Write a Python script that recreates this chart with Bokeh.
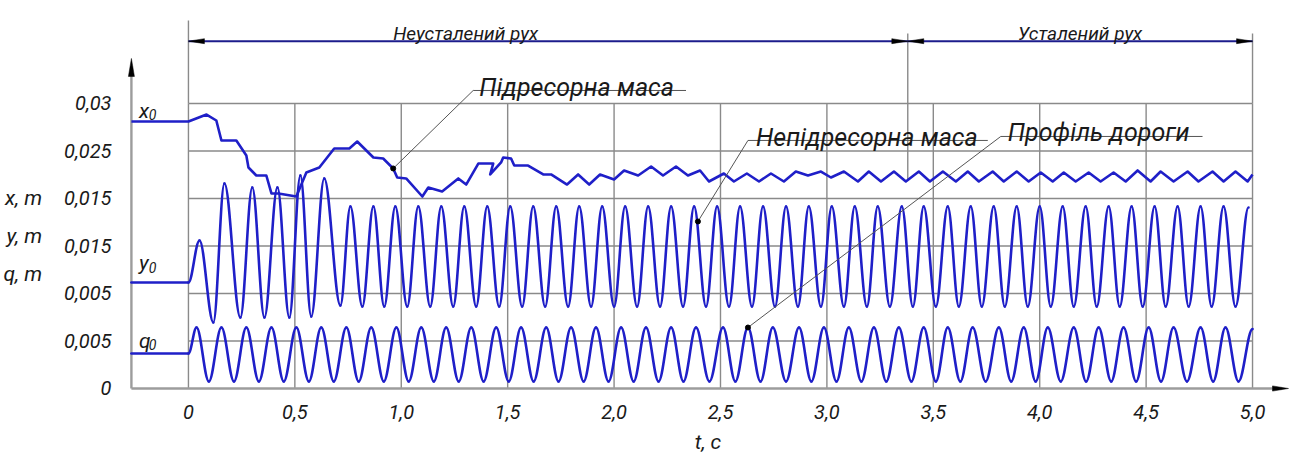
from bokeh.plotting import figure
from bokeh.models import Range1d, FixedTicker, ColumnDataSource
from bokeh.core.properties import value
from bokeh.embed import file_html
from bokeh.resources import INLINE

# ---------------- data ----------------
t_ticks = [0, 0.5, 1, 1.5, 2, 2.5, 3, 3.5, 4, 4.5, 5]
t_labels = ["0", "0,5", "1,0", "1,5", "2,0", "2,5", "3,0", "3,5", "4,0", "4,5", "5,0"]
v_ticks = [0, 0.005, 0.01, 0.015, 0.02, 0.025, 0.03]
v_labels = ["0", "0,005", "0,005", "0,015", "0,015", "0,025", "0,03"]

phase_names = ["Неусталений рух", "Усталений рух"]
phase_bounds = [0, 3.38, 5]

curve_names = ["Підресорна маса", "Непідресорна маса", "Профіль дороги"]
callout_t = [0.962, 2.394, 2.629]
callout_v = [0.02316, 0.01758, 0.00642]

# sprung mass x(t)
x_t = [-0.268, 0.000, 0.085, 0.131, 0.155, 0.225, 0.272, 0.282, 0.319, 0.366,
       0.390, 0.423, 0.507, 0.554, 0.615, 0.685, 0.756, 0.793, 0.869, 0.915,
       0.962, 0.981, 1.023, 1.099, 1.127, 1.192, 1.268, 1.305, 1.362, 1.432,
       1.418, 1.469, 1.479, 1.516, 1.531, 1.596, 1.667, 1.704, 1.779, 1.831,
       1.883, 1.934, 2.000, 2.047, 2.113, 2.174, 2.230, 2.291, 2.347, 2.404,
       2.446, 2.516, 2.563, 2.624, 2.681, 2.737, 2.798, 2.854, 2.911, 2.972,
       3.019, 3.080, 3.146, 3.197, 3.254, 3.315, 3.371, 3.432, 3.484, 3.545,
       3.606, 3.662, 3.714, 3.779, 3.831, 3.892, 3.948, 4.005, 4.061, 4.113,
       4.169, 4.230, 4.286, 4.347, 4.404, 4.460, 4.521, 4.568, 4.629, 4.695,
       4.746, 4.812, 4.864, 4.920, 4.977, 5.000]
x_v = [0.02811, 0.02811, 0.02884, 0.02821, 0.02611, 0.02611, 0.02453, 0.02326, 0.02242, 0.02242,
       0.02053, 0.02053, 0.02021, 0.02274, 0.02326, 0.02526, 0.02526, 0.02600, 0.02432, 0.02421,
       0.02316, 0.02221, 0.02211, 0.02021, 0.02116, 0.02074, 0.02211, 0.02147, 0.02368, 0.02368,
       0.02253, 0.02379, 0.02432, 0.02421, 0.02347, 0.02347, 0.02253, 0.02253, 0.02147, 0.02253,
       0.02147, 0.02253, 0.02200, 0.02295, 0.02242, 0.02337, 0.02242, 0.02337, 0.02242, 0.02295,
       0.02179, 0.02263, 0.02179, 0.02263, 0.02179, 0.02263, 0.02179, 0.02284, 0.02242, 0.02284,
       0.02221, 0.02284, 0.02179, 0.02284, 0.02179, 0.02284, 0.02179, 0.02284, 0.02179, 0.02284,
       0.02179, 0.02284, 0.02179, 0.02284, 0.02179, 0.02284, 0.02179, 0.02274, 0.02179, 0.02274,
       0.02179, 0.02274, 0.02179, 0.02274, 0.02179, 0.02295, 0.02179, 0.02284, 0.02179, 0.02284,
       0.02179, 0.02284, 0.02179, 0.02284, 0.02179, 0.02253]

# unsprung mass y(t): successive extrema
y_t = [-0.268, 0.000, 0.052, 0.117, 0.169, 0.244, 0.300, 0.357, 0.418, 0.474,
       0.526, 0.577, 0.638, 0.714,
       0.761, 0.817, 0.869, 0.920, 0.972, 1.028, 1.080, 1.136, 1.188, 1.244,
       1.296, 1.352, 1.404, 1.460, 1.512, 1.568, 1.620, 1.676, 1.728, 1.784,
       1.836, 1.892, 1.944, 2.000, 2.052, 2.108, 2.160, 2.216, 2.268, 2.324,
       2.376, 2.432, 2.484, 2.540, 2.592, 2.648, 2.700, 2.756, 2.808, 2.864,
       2.915, 2.972, 3.023, 3.080, 3.131, 3.188, 3.239, 3.296, 3.352, 3.404,
       3.455, 3.512, 3.568, 3.620, 3.676, 3.728, 3.784, 3.836, 3.892, 3.944,
       4.000, 4.052, 4.108, 4.160, 4.216, 4.268, 4.324, 4.376, 4.432, 4.484,
       4.540, 4.592, 4.648, 4.700, 4.756, 4.808, 4.864, 4.920, 4.981]
y_v = [0.01116, 0.01116, 0.01558, 0.00695, 0.02158, 0.00747, 0.02116, 0.00747, 0.02116, 0.00747,
       0.02242, 0.00758, 0.02211, 0.00874,
       0.01916, 0.00863, 0.01916, 0.00863, 0.01916, 0.00863, 0.01916, 0.00863, 0.01916, 0.00863,
       0.01916, 0.00863, 0.01916, 0.00863, 0.01916, 0.00863, 0.01916, 0.00863, 0.01916, 0.00863,
       0.01916, 0.00863, 0.01916, 0.00863, 0.01916, 0.00863, 0.01916, 0.00863, 0.01916, 0.00863,
       0.01916, 0.00863, 0.01916, 0.00863, 0.01916, 0.00863, 0.01916, 0.00863, 0.01916, 0.00863,
       0.01916, 0.00863, 0.01916, 0.00863, 0.01916, 0.00863, 0.01916, 0.00863, 0.01916, 0.00863,
       0.01916, 0.00863, 0.01916, 0.00863, 0.01916, 0.00863, 0.01916, 0.00863, 0.01916, 0.00863,
       0.01916, 0.00863, 0.01916, 0.00863, 0.01916, 0.00863, 0.01916, 0.00863, 0.01916, 0.00863,
       0.01916, 0.00863, 0.01916, 0.00863, 0.01916, 0.00863, 0.01916, 0.00863, 0.01905]

# road profile q(t): successive extrema
q_t = [-0.268, 0.000,
       0.038, 0.096, 0.155, 0.214, 0.272, 0.331, 0.390, 0.448, 0.507, 0.566,
       0.624, 0.683, 0.742, 0.800, 0.859, 0.918, 0.977, 1.035, 1.094, 1.153,
       1.211, 1.270, 1.329, 1.387, 1.446, 1.505, 1.563, 1.622, 1.681, 1.739,
       1.798, 1.857, 1.915, 1.974, 2.033, 2.092, 2.150, 2.209, 2.268, 2.326,
       2.385, 2.448, 2.512, 2.570, 2.629, 2.688, 2.746, 2.808, 2.869, 2.927,
       2.986, 3.045, 3.103, 3.162, 3.221, 3.279, 3.338, 3.397, 3.455, 3.512,
       3.568, 3.627, 3.685, 3.746, 3.808, 3.866, 3.925, 3.981, 4.038, 4.099,
       4.160, 4.218, 4.277, 4.336, 4.394, 4.453, 4.512, 4.570, 4.629, 4.692,
       4.756, 4.815, 4.873, 4.934, 5.000]
q_v = [0.00368, 0.00368,
       0.00642, 0.00074, 0.00642, 0.00074, 0.00642, 0.00074, 0.00642, 0.00074, 0.00642, 0.00074,
       0.00642, 0.00074, 0.00642, 0.00074, 0.00642, 0.00074, 0.00642, 0.00074, 0.00642, 0.00074,
       0.00642, 0.00074, 0.00642, 0.00074, 0.00642, 0.00074, 0.00642, 0.00074, 0.00642, 0.00074,
       0.00642, 0.00074, 0.00642, 0.00074, 0.00642, 0.00074, 0.00642, 0.00074, 0.00642, 0.00074,
       0.00642, 0.00074, 0.00642, 0.00074, 0.00642, 0.00074, 0.00642, 0.00074, 0.00642, 0.00074,
       0.00642, 0.00074, 0.00642, 0.00074, 0.00642, 0.00074, 0.00642, 0.00074, 0.00642, 0.00074,
       0.00642, 0.00074, 0.00642, 0.00074, 0.00642, 0.00074, 0.00642, 0.00074, 0.00642, 0.00074,
       0.00642, 0.00074, 0.00642, 0.00074, 0.00642, 0.00074, 0.00642, 0.00074, 0.00642, 0.00074,
       0.00642, 0.00074, 0.00642, 0.00074, 0.00625]

# ---------------- layout / style ----------------
FONT = "Roboto"
CURVE = "#1f1fc8"
DIM = "#1c1c8c"
GRID = "#8a8a8a"
AXIS = "#9c9c9c"
INK = "#1a1a1a"
LEAD = "#555555"

W, H = 1290, 458
ML, MB = 124, 64
T0, T1 = -0.295775, 5.178404
V0, V1 = -0.000632, 0.040842
PX_T = (W - ML) / (T1 - T0)
PX_V = (H - MB) / (V1 - V0)

p = figure(width=W, height=H, x_range=Range1d(T0, T1), y_range=Range1d(V0, V1),
           output_backend="svg", toolbar_location=None,
           min_border_left=ML, min_border_right=0, min_border_top=0, min_border_bottom=MB)
p.outline_line_color = None
p.grid.visible = False
p.background_fill_color = "white"
p.border_fill_color = "white"

for ax, ticks, labels, standoff in ((p.xaxis[0], t_ticks, t_labels, 4),
                                    (p.yaxis[0], v_ticks, v_labels, 8)):
    ax.ticker = FixedTicker(ticks=ticks)
    ax.major_label_overrides = {k: s for k, s in zip(ticks, labels)}
    ax.axis_line_color = None
    ax.major_tick_line_color = None
    ax.minor_tick_line_color = None
    ax.major_label_text_font = FONT
    ax.major_label_text_font_size = "20px"
    ax.major_label_text_font_style = "italic"
    ax.major_label_text_color = INK
    ax.major_label_standoff = standoff
    ax.axis_label_text_font = FONT
    ax.axis_label_text_font_size = "21px"
    ax.axis_label_text_font_style = "italic"
    ax.axis_label_text_color = INK

p.xaxis[0].axis_label = "t, c"
p.xaxis[0].axis_label_standoff = 8
p.yaxis[0].axis_label = "\n\nx, m\ny, m\nq, m"
p.yaxis[0].axis_label_standoff = 19
p.yaxis[0].axis_label_text_line_height = 1.6
try:
    p.yaxis[0].axis_label_orientation = "horizontal"
except Exception:
    pass

t_axis = x_t[0]
t0, t_mid, t_end = phase_bounds
v_top = v_ticks[-1]
v_dim = 0.03656
v_ext = 0.03737

# grid
p.segment(x0=[t0] * 6, y0=v_ticks[1:], x1=[t_end] * 6, y1=v_ticks[1:], line_color=GRID, line_width=1.4)
p.segment(x0=t_ticks, y0=[0] * len(t_ticks), x1=t_ticks, y1=[v_top] * len(t_ticks), line_color=GRID, line_width=1.4)
# extension lines of the dimensions
p.segment(x0=[t0, t_mid, t_end], y0=[v_top, 0.0219, v_top], x1=[t0, t_mid, t_end], y1=[0.03874, v_ext, v_ext],
          line_color=GRID, line_width=1.4)


def head(tx, ty, dx, dy, length, half):
    bx = tx - dx * length / PX_T
    by = ty - dy * length / PX_V
    nx, ny = -dy, dx
    return ([tx, bx + nx * half / PX_T, bx - nx * half / PX_T],
            [ty, by + ny * half / PX_V, by - ny * half / PX_V])


# axes with arrows
ax_tip_v = 0.03474
ax_tip_t = 5.169
p.segment(x0=[t_axis, t_axis], y0=[0, 0], x1=[t_axis, ax_tip_t - 0.03], y1=[ax_tip_v - 0.0008, 0],
          line_color=AXIS, line_width=2.4)
hx1, hy1 = head(t_axis, ax_tip_v, 0, 1, 18, 3)
hx2, hy2 = head(ax_tip_t, 0, 1, 0, 16, 2.6)
p.patches(xs=[hx1, hx2], ys=[hy1, hy2], fill_color="black", line_color="black", line_width=0.5)

# dimension lines
p.segment(x0=[t0, t_mid], y0=[v_dim, v_dim], x1=[t_mid, t_end], y1=[v_dim, v_dim], line_color=DIM, line_width=2)
heads = [head(t0, v_dim, -1, 0, 16, 2.5), head(t_mid, v_dim, 1, 0, 16, 2.5),
         head(t_mid, v_dim, -1, 0, 16, 2.5), head(t_end, v_dim, 1, 0, 16, 2.5)]
p.patches(xs=[h[0] for h in heads], ys=[h[1] for h in heads], fill_color="black", line_color="black", line_width=0.5)
p.text(x=[0.962, 3.897], y=[0.03737, 0.03737], text=phase_names, text_font=value(FONT),
       text_font_size="19px", text_font_style="italic", text_color=INK, text_baseline="alphabetic")

# curves
p.line(x_t, x_v, line_color=CURVE, line_width=2.6, line_join="round")


def bez(ts, vs, k):
    d = dict(x0=[], y0=[], x1=[], y1=[], cx0=[], cy0=[], cx1=[], cy1=[])
    for i in range(len(ts) - 1):
        ta, va, tb, vb = ts[i], vs[i], ts[i + 1], vs[i + 1]
        dt = tb - ta
        d["x0"].append(ta); d["y0"].append(va)
        d["x1"].append(tb); d["y1"].append(vb)
        d["cx0"].append(ta + k * dt); d["cy0"].append(va)
        d["cx1"].append(tb - k * dt); d["cy1"].append(vb)
    return ColumnDataSource(d)


for ts, vs in ((y_t, y_v), (q_t, q_v)):
    p.bezier(x0="x0", y0="y0", x1="x1", y1="y1", cx0="cx0", cy0="cy0", cx1="cx1", cy1="cy1",
             source=bez(ts, vs, 0.36), line_color=CURVE, line_width=2.6, line_cap="round")

# initial value labels x0, y0, q0
p.text(x=[-0.232, -0.232, -0.232], y=[0.02916, 0.01326, 0.00505], text=["x", "y", "q"],
       text_font=value(FONT), text_font_size="21px", text_font_style="italic", text_color=INK,
       text_baseline="alphabetic")
p.text(x=[-0.186, -0.186, -0.186], y=[0.02884, 0.01274, 0.00463], text=["0", "0", "0"],
       text_font=value(FONT), text_font_size="14px", text_font_style="italic", text_color=INK,
       text_baseline="alphabetic")

# callouts
ul_t0 = [1.338, 2.629, 3.817]
ul_t1 = [2.338, 3.756, 4.765]
ul_v = [0.03137, 0.02611, 0.02653]
p.segment(x0=ul_t0, y0=ul_v, x1=ul_t1, y1=ul_v, line_color=LEAD, line_width=1)
p.segment(x0=ul_t0, y0=ul_v, x1=callout_t, y1=callout_v, line_color=LEAD, line_width=1)
p.scatter(callout_t, callout_v, size=5, color="black")
p.text(x=[1.366, 2.667, 3.850], y=[0.03168, 0.02642, 0.02695], text=curve_names,
       text_font=value(FONT), text_font_size="25px", text_font_style="italic", text_color=INK,
       text_baseline="alphabetic")

open("out.html", "w").write(file_html(p, INLINE))
